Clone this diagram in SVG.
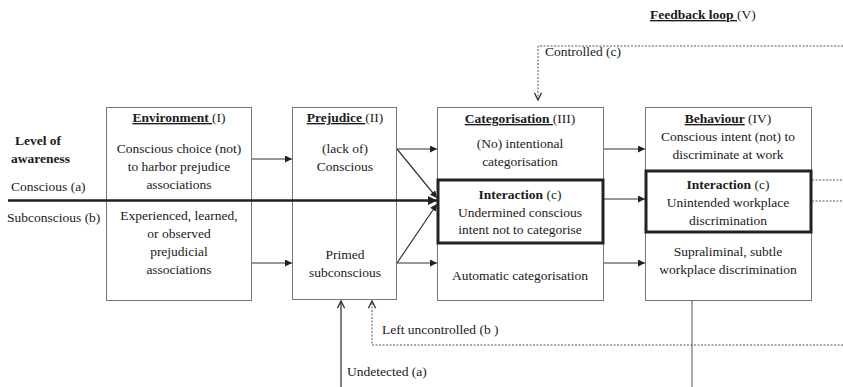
<svg xmlns="http://www.w3.org/2000/svg" width="843" height="387" viewBox="0 0 843 387">
<defs>
<marker id="ah" viewBox="0 0 10 10" refX="10" refY="5" markerWidth="7" markerHeight="7" markerUnits="userSpaceOnUse" orient="auto"><path d="M0,0 L10,5 L0,10 z" fill="#222"/></marker>
<marker id="ahb" viewBox="0 0 10 10" refX="10" refY="5" markerWidth="9" markerHeight="9" markerUnits="userSpaceOnUse" orient="auto"><path d="M0,0 L10,5 L0,10 z" fill="#222"/></marker>
<marker id="open" viewBox="0 0 10 10" refX="9" refY="5" markerWidth="9" markerHeight="9" markerUnits="userSpaceOnUse" orient="auto"><path d="M1,1 L9,5 L1,9" fill="none" stroke="#333" stroke-width="1.5"/></marker>
</defs>
<style>
.t{font-family:'Liberation Serif',serif;font-size:13.5px;fill:#1a1a1a}
.c{text-anchor:middle}
.b{font-weight:bold}
.u{text-decoration:underline}
.box{fill:#fff;stroke:#777;stroke-width:1}
.ibox{fill:none;stroke:#222;stroke-width:3}
.ar{stroke:#333;stroke-width:1.2;fill:none}
.dash{stroke:#555;stroke-width:1;stroke-dasharray:2,1.5;fill:none}
</style>
<rect width="843" height="387" fill="#fff"/>

<g id="labels" class="t">
<text x="15" y="145" class="b">Level of</text>
<text x="11" y="163" class="b">awareness</text>
<text x="11" y="191">Conscious (a)</text>
<text x="7" y="222">Subconscious (b)</text>
<text x="650" y="19"><tspan class="b u">Feedback loop  </tspan> (V)</text>
</g>

<g id="environment" class="t">
<rect class="box" x="106.5" y="107.5" width="145" height="193"/>
<text x="179" y="122" class="c"><tspan class="b u">Environment </tspan>(I)</text>
<text x="179" y="153" class="c">Conscious choice (not)</text>
<text x="179" y="171" class="c">to harbor prejudice</text>
<text x="179" y="189" class="c">associations</text>
<text x="179" y="220" class="c">Experienced, learned,</text>
<text x="179" y="238" class="c">or observed</text>
<text x="179" y="256" class="c">prejudicial</text>
<text x="179" y="274" class="c">associations</text>
</g>

<g id="prejudice" class="t">
<rect class="box" x="292.5" y="107.5" width="104" height="192"/>
<text x="345" y="122" class="c"><tspan class="b u">Prejudice </tspan>(II)</text>
<text x="345" y="153" class="c">(lack of)</text>
<text x="345" y="171" class="c">Conscious</text>
<text x="345" y="259" class="c">Primed</text>
<text x="345" y="277" class="c">subconscious</text>
</g>

<g id="categorisation" class="t">
<rect class="box" x="437.5" y="107.5" width="166" height="193"/>
<text x="520" y="123" class="c"><tspan class="b u">Categorisation </tspan>(III)</text>
<text x="520" y="148" class="c">(No) intentional</text>
<text x="520" y="166" class="c">categorisation</text>
<text x="520" y="280" class="c">Automatic categorisation</text>
</g>

<g id="categorisation-interaction" class="t">
<rect class="ibox" x="438" y="180" width="165" height="63"/>
<text x="520" y="199" class="c"><tspan class="b">Interaction</tspan> (c)</text>
<text x="520" y="217" class="c">Undermined conscious</text>
<text x="520" y="234" class="c">intent not to categorise</text>
</g>

<g id="behaviour" class="t">
<rect class="box" x="645.5" y="107.5" width="166" height="193"/>
<text x="728" y="123" class="c"><tspan class="b u">Behaviour</tspan> (IV)</text>
<text x="728" y="141" class="c">Conscious intent (not) to</text>
<text x="728" y="159" class="c">discriminate at work</text>
<text x="728" y="256" class="c">Supraliminal, subtle</text>
<text x="728" y="274" class="c">workplace discrimination</text>
</g>

<g id="behaviour-interaction" class="t">
<rect class="ibox" x="646" y="171" width="165" height="61"/>
<text x="728" y="189" class="c"><tspan class="b">Interaction</tspan> (c)</text>
<text x="728" y="207" class="c">Unintended workplace</text>
<text x="728" y="225" class="c">discrimination</text>
</g>

<g id="connectors" class="t">
<line x1="8" y1="200.5" x2="437" y2="200.5" stroke="#222" stroke-width="2.5" marker-end="url(#ahb)"/>
<line class="ar" x1="252" y1="159" x2="292" y2="159" marker-end="url(#ah)"/>
<line class="ar" x1="252" y1="263" x2="292" y2="263" marker-end="url(#ah)"/>
<line class="ar" x1="397" y1="149" x2="437" y2="149" marker-end="url(#ah)"/>
<line class="ar" x1="397" y1="149" x2="437" y2="198" marker-end="url(#ah)"/>
<line class="ar" x1="397" y1="263" x2="437" y2="204" marker-end="url(#ah)"/>
<line class="ar" x1="397" y1="263" x2="437" y2="263" marker-end="url(#ah)"/>
<line class="ar" x1="604" y1="149" x2="645" y2="149" marker-end="url(#ah)"/>
<line class="ar" x1="604" y1="199" x2="645" y2="199" stroke-width="1.6" marker-end="url(#ah)"/>
<line class="ar" x1="604" y1="263" x2="645" y2="263" marker-end="url(#ah)"/>
<path class="dash" d="M843,46 H538 V100" stroke-width="1.3" marker-end="url(#open)"/>
<text x="545" y="56">Controlled (c)</text>
<line class="dash" x1="812" y1="180" x2="843" y2="180"/>
<line class="dash" x1="812" y1="201" x2="843" y2="201"/>
<path class="dash" d="M843,345 H372 V301" stroke-width="1.3" marker-end="url(#open)"/>
<text x="382" y="334">Left uncontrolled (b )</text>
<line x1="341" y1="387" x2="341" y2="301" stroke="#555" stroke-width="1.5" marker-end="url(#open)"/>
<text x="347" y="376">Undetected (a)</text>
<line x1="692" y1="300" x2="692" y2="387" stroke="#555" stroke-width="1"/>
</g>
</svg>
